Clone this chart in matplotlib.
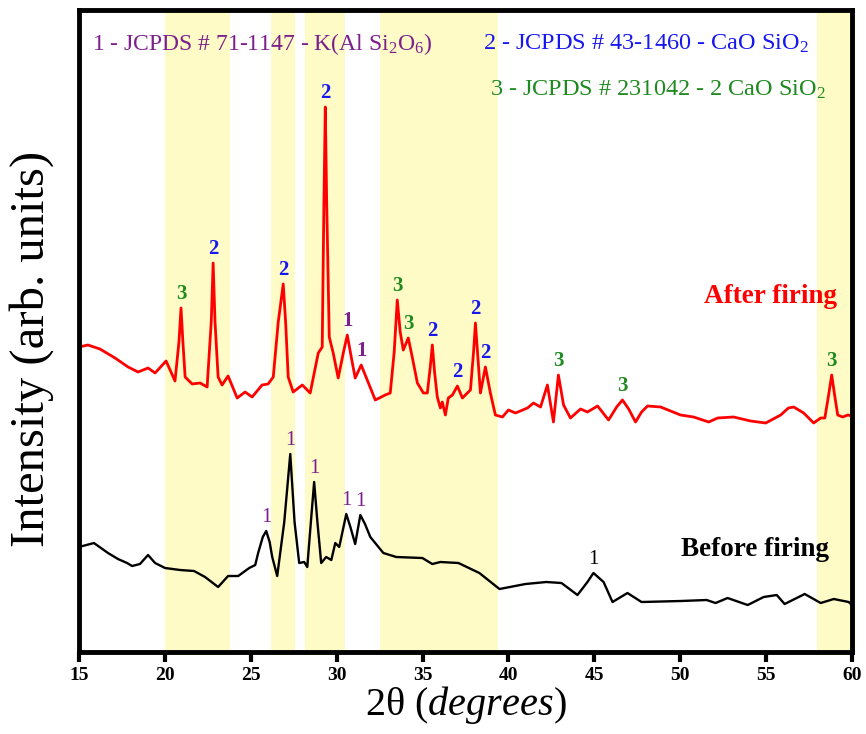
import numpy as np
import matplotlib
matplotlib.use('Agg')
import matplotlib.pyplot as plt

plt.rcParams['font.family'] = ['Liberation Serif', 'DejaVu Serif']
plt.rcParams['mathtext.fontset'] = 'custom'
plt.rcParams['mathtext.rm'] = 'Liberation Serif'
plt.rcParams['mathtext.it'] = 'Liberation Serif:italic'

# After firing pattern (2theta, intensity in arb. units)
after_theta = [15.0, 15.52, 16.22, 17.10, 17.86, 18.44, 19.02, 19.43, 20.07, 20.59,
               20.82, 20.94, 21.05, 21.18, 21.59, 22.05, 22.46, 22.70, 22.81, 22.92,
               23.10, 23.33, 23.68, 24.21, 24.67, 25.08, 25.66, 26.01, 26.31, 26.60,
               26.89, 27.03, 27.18, 27.47, 28.00, 28.46, 28.93, 29.16, 29.26, 29.34,
               29.42, 29.57, 29.80, 30.09, 30.40, 30.62, 30.85, 31.08, 31.43, 31.78,
               32.25, 32.83, 33.12, 33.35, 33.53, 33.70, 33.88, 34.17, 34.40, 34.70,
               35.05, 35.28, 35.45, 35.57, 35.70, 35.86, 36.04, 36.15, 36.33, 36.50,
               36.74, 37.03, 37.32, 37.61, 37.79, 37.97, 38.08, 38.20, 38.37, 38.66,
               38.95, 39.24, 39.65, 40.00, 40.41, 41.11, 41.46, 41.87, 42.27, 42.62,
               42.91, 43.21, 43.61, 44.20, 44.60, 45.19, 45.83, 46.30, 46.64, 47.00,
               47.40, 47.75, 48.10, 48.86, 50.02, 50.78, 51.66, 52.18, 53.11, 54.10,
               54.98, 55.85, 56.30, 56.61, 57.19, 57.77, 58.18, 58.42, 58.65, 58.82,
               58.98, 59.17, 59.46, 59.76, 60.0]
after_int = [305, 307, 303, 294, 285, 280, 284, 279, 291, 271,
             310, 344, 310, 275, 268, 269, 265, 330, 389, 330,
             275, 267, 276, 254, 260, 255, 267, 268, 275, 330,
             368, 330, 275, 260, 267, 259, 299, 305, 450, 545,
             450, 315, 299, 274, 300, 317, 295, 274, 287, 272,
             252, 257, 259, 300, 352, 320, 302, 314, 295, 269,
             259, 259, 285, 307, 280, 255, 244, 250, 237, 254,
             257, 266, 254, 259, 262, 300, 329, 300, 259, 285,
             259, 237, 235, 242, 239, 244, 249, 245, 267, 230,
             277, 247, 234, 243, 240, 246, 232, 245, 252, 243,
             230, 240, 246, 245, 237, 235, 230, 234, 235, 231,
             229, 237, 244, 245, 239, 229, 234, 234, 258, 277,
             258, 237, 235, 237, 236]

# Before firing pattern
before_theta = [15.0, 15.87, 16.69, 17.27, 17.80, 18.09, 18.55, 19.02, 19.43, 20.01,
                20.89, 21.70, 22.34, 23.10, 23.68, 24.27, 24.91, 25.26, 25.43, 25.70,
                25.90, 26.10, 26.25, 26.54, 26.95, 27.30, 27.55, 27.82, 28.11, 28.29,
                28.50, 28.69, 28.88, 29.10, 29.39, 29.69, 29.92, 30.15, 30.40, 30.56,
                30.80, 31.08, 31.38, 31.65, 31.96, 32.72, 33.47, 34.99, 35.57, 36.04,
                37.09, 38.31, 39.48, 40.99, 42.21, 43.09, 44.02, 44.60, 44.95, 45.54,
                46.06, 46.93, 47.75, 50.02, 51.54, 52.06, 52.76, 53.93, 54.86, 55.62,
                56.08, 57.25, 58.18, 58.94, 59.81, 60.0]
before_int = [105, 109, 99, 93, 89, 86, 88, 97, 89, 84,
              82, 81, 75, 65, 76, 76, 84, 87, 99, 115,
              121, 110, 95, 76, 130, 198, 130, 89, 90, 85,
              130, 170, 130, 89, 95, 92, 109, 105, 125, 138,
              125, 108, 137, 128, 115, 99, 95, 94, 88, 90,
              89, 79, 63, 68, 70, 69, 57, 70, 79, 70,
              50, 59, 50, 51, 52, 49, 54, 47, 55, 57,
              48, 58, 49, 53, 50, 47]

# Highlighted 2theta ranges
bands = [(20.0, 23.8), (26.15, 27.55), (28.15, 30.5), (32.55, 39.4), (57.95, 60.0)]

# Peak labels (2theta of peak, phase number)
after_peaks = [(20.94, '3'), (22.81, '2'), (26.89, '2'), (29.34, '2'), (30.62, '1'),
               (31.43, '1'), (33.53, '3'), (34.17, '3'), (35.57, '2'), (37.03, '2'),
               (38.08, '2'), (38.66, '2'), (42.91, '3'), (46.64, '3'), (58.82, '3')]
before_peaks = [(25.90, '1'), (27.30, '1'), (28.69, '1'), (30.56, '1'), (31.38, '1'),
                (44.95, '1')]

phase_colors = {'1': '#7d1f8c', '2': '#1717f0', '3': '#1f8a1f'}

fig = plt.figure(figsize=(8.66, 7.34), dpi=100)
ax = fig.add_axes([0.0912, 0.1117, 0.8926, 0.8747])

for lo, hi in bands:
    ax.axvspan(lo, hi, color='#fffbc6', zorder=0, lw=0)

ax.plot(after_theta, after_int, color='#ff0000', lw=2.0, zorder=2,
        solid_joinstyle='round')
ax.plot(before_theta, before_int, color='black', lw=1.7, zorder=2,
        solid_joinstyle='round')

# Peak labels
for th, lab in after_peaks:
    yv = np.interp(th, after_theta, after_int)
    ax.annotate(lab, (th, yv), xytext=(0, 3), textcoords='offset points',
                ha='center', va='bottom', fontsize=15, fontweight='bold',
                color=phase_colors[lab])
for th, lab in before_peaks:
    yv = np.interp(th, before_theta, before_int)
    col = phase_colors[lab] if th < 40 else 'black'
    ax.annotate(lab, (th, yv), xytext=(0, 3), textcoords='offset points',
                ha='center', va='bottom', fontsize=15, color=col)

# Phase legend texts
ax.text(15.76, 608, '1 - JCPDS # 71-1147 - K(Al Si$_2$O$_6$)', color=phase_colors['1'],
        fontsize=17, va='center')
ax.text(38.54, 608, '2 - JCPDS # 43-1460 - CaO SiO$_2$', color=phase_colors['2'],
        fontsize=17.5, va='center')
ax.text(38.95, 562, '3 - JCPDS # 231042 - 2 CaO SiO$_2$', color=phase_colors['3'],
        fontsize=17.5, va='center')

ax.text(51.36, 355, 'After firing', color='#ff0000', fontsize=19.5, fontweight='bold',
        va='center')
ax.text(50.02, 103, 'Before firing', color='black', fontsize=19.5, fontweight='bold',
        va='center')

ax.set_xlim(15, 60)
ax.set_ylim(0, 642)
ax.set_xticks(np.arange(15, 61, 5))
ax.set_yticks([])
ax.tick_params(axis='x', direction='out', length=7, width=3, labelsize=14, pad=4)
for lbl in ax.get_xticklabels():
    lbl.set_fontweight('bold')
for sp in ax.spines.values():
    sp.set_linewidth(3.5)

ax.set_xlabel('2θ ($\\mathit{degrees}$)', fontsize=29, labelpad=0)
fig.text(0.036, 0.525, 'Intensity (arb. units)', rotation=90, fontsize=35,
         ha='center', va='center')

plt.savefig('out.png', dpi=100)
